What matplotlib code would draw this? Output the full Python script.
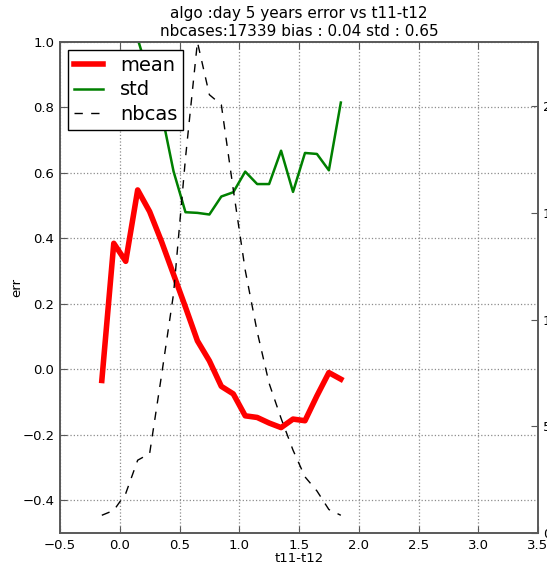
import numpy as np
import matplotlib
matplotlib.use('Agg')
from matplotlib import pyplot as plt

# bin centres of t11-t12
bins = [-0.15, -0.05, 0.05, 0.15, 0.25, 0.35, 0.45, 0.55, 0.65, 0.75, 0.85,
        0.95, 1.05, 1.15, 1.25, 1.35, 1.45, 1.55, 1.65, 1.75, 1.85]

# mean error per bin
mean_err = [-0.034, 0.385, 0.330, 0.548, 0.482, 0.390, 0.290, 0.190, 0.087, 0.026, -0.052,
            -0.075, -0.142, -0.147, -0.164, -0.178, -0.152, -0.157, -0.081, -0.010, -0.030]

# std of error per bin (first bins are above the plotted range)
std_err = [1.20, 1.30, 1.15, 1.01, 0.889, 0.784, 0.605, 0.480, 0.478, 0.473, 0.528,
           0.541, 0.604, 0.566, 0.566, 0.668, 0.542, 0.661, 0.658, 0.608, 0.815]

# number of cases per bin
nbcas = [83, 106, 185, 341, 372, 740, 1120, 1756, 2300, 2053, 2006,
         1609, 1231, 943, 701, 537, 388, 263, 197, 110, 83]

nbcases = 17339
bias = 0.04
std_all = 0.65

plt.rcParams['font.family'] = 'DejaVu Sans'
plt.rcParams['xtick.direction'] = 'in'
plt.rcParams['ytick.direction'] = 'in'

fig = plt.figure(figsize=(5.47, 5.65), dpi=100)
ax = fig.add_axes([60/547, 32/565, 478/547, 491/565])
ax2 = ax.twinx()

l1, = ax.plot(bins, mean_err, color='red', lw=4, label='mean')
l2, = ax.plot(bins, std_err, color='green', lw=1.8, label='std')
l3, = ax2.plot(bins, nbcas, color='black', lw=1, ls='--', dashes=(6, 6), label='nbcas')

ax.set_xlim(-0.5, 3.5)
ax.set_ylim(-0.5, 1.0)
ax2.set_ylim(0, max(nbcas))
ax.set_yticks(np.arange(-0.4, 1.01, 0.2))
ax2.set_yticks([0, 500, 1000, 1500, 2000])

ax.grid(True, color='0.55', ls=':', lw=0.9)
for a in (ax, ax2):
    for s in a.spines.values():
        s.set_color('0.35')
        s.set_linewidth(1.2)
ax.tick_params(top=True, right=False, labelsize=9.5, length=5, color='0.35', pad=4)
ax2.tick_params(labelsize=9.5, length=5, color='0.35')

ax.set_xlabel('t11-t12', fontsize=9.5, labelpad=0)
ax.set_ylabel('err', fontsize=9.5, labelpad=-1)
ax.set_title('algo :day 5 years error vs t11-t12\nnbcases:%d bias : %.2f std : %.2f'
             % (nbcases, bias, std_all), fontsize=11, linespacing=1.25, pad=4)

leg = ax.legend([l1, l2, l3], ['mean', 'std', 'nbcas'], loc='upper left',
                fontsize=14, fancybox=False, framealpha=1, edgecolor='black',
                handlelength=1.5, handletextpad=0.9, borderpad=0.3, labelspacing=0.3,
                borderaxespad=0.4)
leg.get_frame().set_linewidth(1.0)

fig.savefig('out.png', dpi=100, facecolor='white')
